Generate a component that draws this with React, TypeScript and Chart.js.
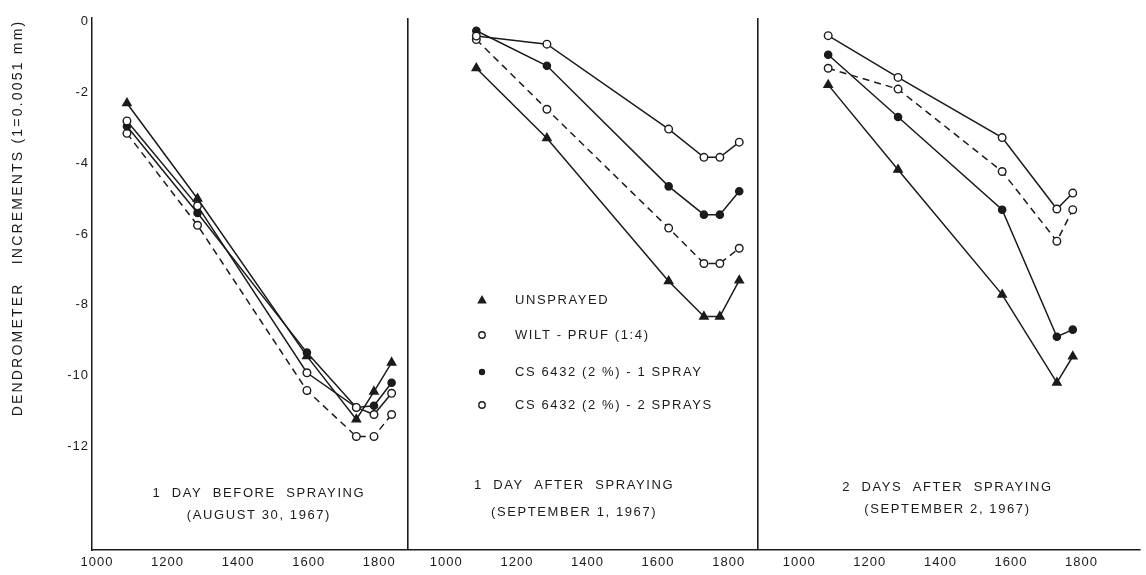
import React, { useEffect, useRef } from 'react';
import { Chart, registerables } from 'chart.js';

Chart.register(...registerables);

// ---------- data ----------
const SERIES_NAMES = [
  'UNSPRAYED',
  'WILT - PRUF (1:4)',
  'CS 6432 (2 %) - 1 SPRAY',
  'CS 6432 (2 %) - 2 SPRAYS',
];
const X_TICKS = [1000, 1200, 1400, 1600, 1800];
const Y_TICKS = [0, -2, -4, -6, -8, -10, -12];

const TIMES_P1 = [1085, 1285, 1595, 1735, 1785, 1835];
const TIMES_P2 = [1085, 1285, 1630, 1730, 1775, 1830];
const TIMES_P3 = [1082, 1280, 1575, 1730, 1775];

const UNSPRAYED_P1 = [-2.3, -5.0, -9.45, -11.24, -10.45, -9.63];
const WILT_P1 = [-2.8, -5.2, -9.92, -10.9, -11.1, -10.5];
const CS1_P1 = [-2.95, -5.4, -9.35, -10.9, -10.85, -10.2];
const CS2_P1 = [-3.15, -5.75, -10.42, -11.72, -11.72, -11.1];

const UNSPRAYED_P2 = [-1.31, -3.29, -7.33, -8.33, -8.33, -7.31];
const WILT_P2 = [-0.4, -0.63, -3.03, -3.83, -3.83, -3.4];
const CS1_P2 = [-0.25, -1.24, -4.65, -5.45, -5.45, -4.79];
const CS2_P2 = [-0.5, -2.47, -5.83, -6.83, -6.83, -6.4];

const UNSPRAYED_P3 = [-1.78, -4.18, -7.71, -10.2, -9.46];
const WILT_P3 = [-0.39, -1.57, -3.27, -5.29, -4.84];
const CS1_P3 = [-0.93, -2.69, -5.31, -8.9, -8.7];
const CS2_P3 = [-1.31, -1.9, -4.23, -6.2, -5.31];

const PANEL_TITLES = [
  ['1  DAY  BEFORE  SPRAYING', '(AUGUST 30, 1967)'],
  ['1  DAY  AFTER  SPRAYING', '(SEPTEMBER 1, 1967)'],
  ['2  DAYS  AFTER  SPRAYING', '(SEPTEMBER 2, 1967)'],
];
const Y_TITLE = 'DENDROMETER   INCREMENTS (1=0.0051 mm)';

// ---------- layout ----------
const W = 1146;
const H = 575;
const PANEL_OFFSET = [0, 990, 1990];
const PANEL_END_LOCAL = 1882;
const X_MIN = 986;
const X_MAX = 3955;
const Y_MIN = -14.93;
const Y_MAX = 0.11;
const DIVIDERS = [PANEL_END_LOCAL + PANEL_OFFSET[0], PANEL_END_LOCAL + PANEL_OFFSET[1]];
const CAPTION_CENTER = [1459, 1362, 1420];
const CAPTION_Y = [
  [493, 515],
  [485, 512],
  [487, 509],
];
const INK = '#1b1b1b';
const FONT = '"Liberation Sans", Arial, sans-serif';

function joinPanels(times: number[][], vals: number[][]) {
  const out: { x: number; y: number | null }[] = [];
  vals.forEach((v, p) => {
    if (p > 0) out.push({ x: PANEL_OFFSET[p] + 900, y: null });
    v.forEach((y, i) => out.push({ x: times[p][i] + PANEL_OFFSET[p], y }));
  });
  return out;
}

function panelOf(value: number) {
  let p = 0;
  for (let i = 0; i < PANEL_OFFSET.length; i++) if (value >= PANEL_OFFSET[i] + 950) p = i;
  return p;
}

function drawMarker(ctx: CanvasRenderingContext2D, kind: number, x: number, y: number) {
  ctx.save();
  ctx.fillStyle = INK;
  ctx.strokeStyle = INK;
  ctx.lineWidth = 1.4;
  ctx.beginPath();
  if (kind === 0) {
    const r = 5;
    ctx.moveTo(x, y - r);
    ctx.lineTo(x + r * 0.95, y + r * 0.7);
    ctx.lineTo(x - r * 0.95, y + r * 0.7);
    ctx.closePath();
    ctx.fill();
  } else if (kind === 2) {
    ctx.arc(x, y, 3.2, 0, Math.PI * 2);
    ctx.fill();
  } else {
    ctx.arc(x, y, 3.2, 0, Math.PI * 2);
    ctx.stroke();
  }
  ctx.restore();
}

const annotPlugin = {
  id: 'annot',
  beforeDraw(chart: any) {
    (chart.ctx as any).letterSpacing = '1px';
  },
  afterDraw(chart: any) {
    const ctx: CanvasRenderingContext2D = chart.ctx;
    const xs = chart.scales.x;
    ctx.save();
    ctx.fillStyle = INK;
    ctx.textAlign = 'center';
    ctx.textBaseline = 'middle';
    ctx.font = `13px ${FONT}`;
    (ctx as any).letterSpacing = '1.6px';
    PANEL_TITLES.forEach((lines, p) => {
      const cx = xs.getPixelForValue(CAPTION_CENTER[p] + PANEL_OFFSET[p]);
      ctx.fillText(lines[0], cx, CAPTION_Y[p][0]);
      ctx.fillText(lines[1], cx, CAPTION_Y[p][1]);
    });
    // legend
    const legX = 482;
    const legTextX = 515;
    const legY = [300, 335, 372, 405];
    ctx.textAlign = 'left';
    SERIES_NAMES.forEach((name, i) => {
      drawMarker(ctx, i, legX, legY[i]);
      ctx.fillStyle = INK;
      ctx.fillText(name, legTextX, legY[i]);
    });
    // y title
    ctx.translate(18, 218);
    ctx.rotate(-Math.PI / 2);
    ctx.textAlign = 'center';
    ctx.font = `14px ${FONT}`;
    (ctx as any).letterSpacing = '2.2px';
    ctx.fillText(Y_TITLE, 0, 0);
    ctx.restore();
    (ctx as any).letterSpacing = '0px';
  },
};

export default function App() {
  const ref = useRef<HTMLCanvasElement | null>(null);

  useEffect(() => {
    if (!ref.current) return;
    const times = [TIMES_P1, TIMES_P2, TIMES_P3];
    const common = {
      borderColor: INK,
      borderWidth: 1.5,
      pointBorderColor: INK,
      pointBorderWidth: 1.4,
      spanGaps: false,
      tension: 0,
    };
    const chart = new Chart(ref.current, {
      type: 'line',
      data: {
        datasets: [
          {
            ...common,
            label: SERIES_NAMES[0],
            data: joinPanels(times, [UNSPRAYED_P1, UNSPRAYED_P2, UNSPRAYED_P3]),
            pointStyle: 'triangle',
            pointRadius: 4.8,
            pointBackgroundColor: INK,
          },
          {
            ...common,
            label: SERIES_NAMES[1],
            data: joinPanels(times, [WILT_P1, WILT_P2, WILT_P3]),
            pointStyle: 'circle',
            pointRadius: 3.8,
            pointBackgroundColor: '#ffffff',
          },
          {
            ...common,
            label: SERIES_NAMES[2],
            data: joinPanels(times, [CS1_P1, CS1_P2, CS1_P3]),
            pointStyle: 'circle',
            pointRadius: 3.6,
            pointBackgroundColor: INK,
          },
          {
            ...common,
            label: SERIES_NAMES[3],
            data: joinPanels(times, [CS2_P1, CS2_P2, CS2_P3]),
            pointStyle: 'circle',
            pointRadius: 3.8,
            pointBackgroundColor: '#ffffff',
            borderDash: [7, 5],
          },
        ],
      },
      options: {
        responsive: false,
        animation: false,
        events: [],
        layout: { padding: { top: 18, right: 0, left: 0, bottom: 0 } },
        plugins: { legend: { display: false }, tooltip: { enabled: false } },
        scales: {
          x: {
            type: 'linear',
            min: X_MIN,
            max: X_MAX,
            afterBuildTicks: (scale: any) => {
              const vals: number[] = [];
              PANEL_OFFSET.forEach((off) => X_TICKS.forEach((t) => vals.push(t + off)));
              DIVIDERS.forEach((d) => vals.push(d));
              vals.sort((a, b) => a - b);
              scale.ticks = vals.map((v) => ({ value: v }));
            },
            afterFit: (scale: any) => {
              scale.height = 25;
            },
            ticks: {
              autoSkip: false,
              maxRotation: 0,
              padding: 5,
              color: INK,
              font: { family: FONT, size: 13 },
              callback: (value: any) => {
                const v = Number(value);
                if (DIVIDERS.includes(v)) return '';
                return String(v - PANEL_OFFSET[panelOf(v)]);
              },
            },
            grid: {
              drawTicks: false,
              lineWidth: 1.6,
              color: (c: any) => (c.tick && DIVIDERS.includes(c.tick.value) ? INK : 'rgba(0,0,0,0)'),
            },
            border: { display: true, color: INK, width: 1.5 },
          },
          y: {
            type: 'linear',
            min: Y_MIN,
            max: Y_MAX,
            afterBuildTicks: (scale: any) => {
              scale.ticks = Y_TICKS.map((v) => ({ value: v }));
            },
            afterFit: (scale: any) => {
              scale.width = 92;
            },
            ticks: {
              padding: 3,
              color: INK,
              font: { family: FONT, size: 13 },
              callback: (value: any) => String(value),
            },
            grid: { drawTicks: false, color: 'rgba(0,0,0,0)' },
            border: { display: true, color: INK, width: 1.5 },
          },
        },
      },
      plugins: [annotPlugin],
    } as any);
    return () => chart.destroy();
  }, []);

  return (
    <div style={{ position: 'absolute', left: 0, top: 0, width: W, height: H, background: '#fff' }}>
      <canvas ref={ref} width={W} height={H} style={{ width: W, height: H, display: 'block' }} />
    </div>
  );
}
